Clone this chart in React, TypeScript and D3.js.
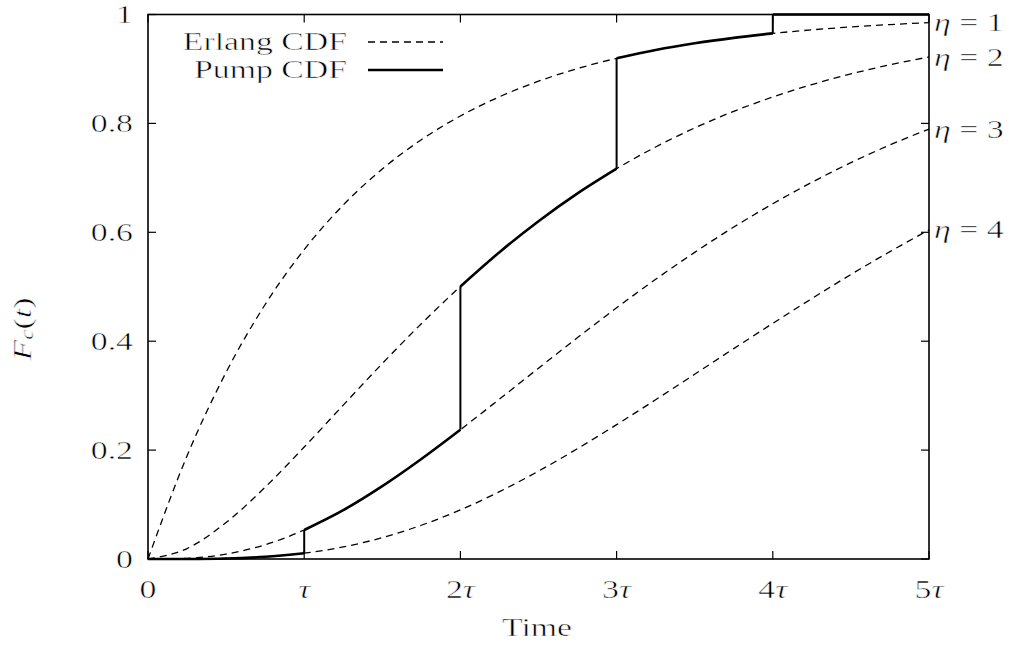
import React from "react";
import * as d3 from "d3";

// Sample times, in units of tau
const timeSteps = [0, 0.25, 0.5, 0.75, 1, 1.25, 1.5, 1.75, 2, 2.25, 2.5, 2.75, 3, 3.25, 3.5, 3.75, 4, 4.25, 4.5, 4.75, 5];

// Erlang CDF for shape eta = 1..4
const erlang1 = [0, 0.1894, 0.3429, 0.4674, 0.5683, 0.6501, 0.7163, 0.7701, 0.8136, 0.8489, 0.8775, 0.9007, 0.9195, 0.9348, 0.9471, 0.9571, 0.9653, 0.9718, 0.9772, 0.9815, 0.985];
const erlang2 = [0, 0.0192, 0.067, 0.1319, 0.2056, 0.2826, 0.359, 0.4321, 0.5005, 0.5634, 0.6204, 0.6714, 0.7168, 0.7567, 0.7917, 0.8222, 0.8485, 0.8713, 0.8909, 0.9077, 0.922];
const erlang3 = [0, 0.0013, 0.0091, 0.0262, 0.0533, 0.0897, 0.1338, 0.1837, 0.2375, 0.2936, 0.3504, 0.4066, 0.4613, 0.5137, 0.5632, 0.6096, 0.6524, 0.6918, 0.7279, 0.7604, 0.7897];
const erlang4 = [0, 0.0001, 0.0009, 0.004, 0.0107, 0.0222, 0.0392, 0.062, 0.0902, 0.1236, 0.1614, 0.2027, 0.2467, 0.2925, 0.3393, 0.3864, 0.4328, 0.4783, 0.5225, 0.5645, 0.6045];
const etaLabels = ["η = 1", "η = 2", "η = 3", "η = 4"];

// Pump CDF: piecewise, with jumps at each multiple of tau (repeated times mark a jump)
const pumpTimes = [0, 0.25, 0.5, 0.75, 1, 1, 1.25, 1.5, 1.75, 2, 2, 2.25, 2.5, 2.75, 3, 3, 3.25, 3.5, 3.75, 4, 4, 5];
const pumpValues = [0, 0.0001, 0.0009, 0.004, 0.0107, 0.0533, 0.0897, 0.1338, 0.1837, 0.2375, 0.5005, 0.5634, 0.6204, 0.6714, 0.7168, 0.9195, 0.9348, 0.9471, 0.9571, 0.9653, 1, 1];

const xTicks = [0, 1, 2, 3, 4, 5];
const xTickLabels = ["0", "τ", "2τ", "3τ", "4τ", "5τ"];
const yTicks = [0, 0.2, 0.4, 0.6, 0.8, 1];
const yTickLabels = ["0", "0.2", "0.4", "0.6", "0.8", "1"];

const W = 1017;
const H = 649;
const L = 148, R = 929, T = 14.5, B = 559;
const FONT = "'Liberation Serif', serif";
const FS = 26;
const SX = 1.3; // horizontal stretch of the serif lettering

type LabelProps = {
  x: number;
  y: number;
  anchor?: "start" | "middle" | "end";
  rotate?: number;
  children: React.ReactNode;
};

function Label({ x, y, anchor = "start", rotate = 0, children }: LabelProps) {
  return (
    <g transform={`translate(${x},${y}) rotate(${rotate}) scale(${SX},1)`}>
      <text
        x={0}
        y={0}
        textAnchor={anchor}
        dominantBaseline="central"
        fontSize={FS}
        fill="#000"
        stroke="#fff"
        strokeWidth={0.55}
      >
        {children}
      </text>
    </g>
  );
}

function withItalicTau(s: string) {
  return s.split("").map((ch, j) => (
    <tspan key={j} fontStyle={ch === "τ" ? "italic" : "normal"}>
      {ch}
    </tspan>
  ));
}

export default function App() {
  const x = d3.scaleLinear().domain([0, 5]).range([L, R]);
  const y = d3.scaleLinear().domain([0, 1]).range([B, T]);
  const curves = [erlang1, erlang2, erlang3, erlang4];

  const line = d3
    .line<[number, number]>()
    .x((d) => x(d[0]))
    .y((d) => y(d[1]))
    .curve(d3.curveMonotoneX);

  // split pump series into smooth pieces at the jumps
  const segments: [number, number][][] = [];
  let cur: [number, number][] = [];
  pumpTimes.forEach((t, i) => {
    if (i > 0 && t === pumpTimes[i - 1]) {
      segments.push(cur);
      cur = [];
    }
    cur.push([t, pumpValues[i]]);
  });
  segments.push(cur);

  const tickLen = 8;

  return (
    <svg width={W} height={H} style={{ position: "absolute", left: 0, top: 0, background: "#fff" }} fontFamily={FONT}>
      <rect x={0} y={0} width={W} height={H} fill="#fff" />

      {/* Erlang curves */}
      {curves.map((c, k) => (
        <path
          key={"e" + k}
          d={line(timeSteps.map((t, i) => [t, c[i]] as [number, number])) || ""}
          fill="none"
          stroke="#000"
          strokeWidth={1.3}
          strokeDasharray="7,5"
        />
      ))}

      {/* Pump curve */}
      {segments.map((s, k) => (
        <path key={"p" + k} d={line(s) || ""} fill="none" stroke="#000" strokeWidth={2.6} />
      ))}
      {segments.slice(1).map((s, k) => {
        const prev = segments[k];
        const a = prev[prev.length - 1];
        const b = s[0];
        return (
          <line key={"j" + k} x1={x(a[0])} y1={y(a[1])} x2={x(b[0])} y2={y(b[1])} stroke="#000" strokeWidth={2} />
        );
      })}

      {/* frame */}
      <rect x={L} y={T} width={R - L} height={B - T} fill="none" stroke="#000" strokeWidth={1.6} />

      {/* x ticks */}
      {xTicks.map((t, i) => (
        <g key={"xt" + i}>
          <line x1={x(t)} x2={x(t)} y1={B} y2={B - tickLen} stroke="#000" strokeWidth={1.2} />
          <line x1={x(t)} x2={x(t)} y1={T} y2={T + tickLen} stroke="#000" strokeWidth={1.2} />
          <Label x={x(t)} y={589} anchor="middle">
            {withItalicTau(xTickLabels[i])}
          </Label>
        </g>
      ))}

      {/* y ticks */}
      {yTicks.map((v, i) => (
        <g key={"yt" + i}>
          <line x1={L} x2={L + tickLen} y1={y(v)} y2={y(v)} stroke="#000" strokeWidth={1.2} />
          <line x1={R} x2={R - tickLen} y1={y(v)} y2={y(v)} stroke="#000" strokeWidth={1.2} />
          <Label x={133} y={y(v)} anchor="end">
            {yTickLabels[i]}
          </Label>
        </g>
      ))}

      {/* eta labels at curve ends */}
      {curves.map((c, k) => (
        <Label key={"lab" + k} x={934} y={y(c[c.length - 1])}>
          <tspan fontStyle="italic">η</tspan>
          <tspan>{etaLabels[k].slice(1)}</tspan>
        </Label>
      ))}

      {/* axis titles */}
      <Label x={537} y={627} anchor="middle">
        Time
      </Label>
      <Label x={22} y={329} anchor="middle" rotate={-90}>
        <tspan fontStyle="italic">F</tspan>
        <tspan fontStyle="italic" fontSize={18} dy={5}>c</tspan>
        <tspan dy={-5}>(</tspan>
        <tspan fontStyle="italic">t</tspan>
        <tspan>)</tspan>
      </Label>

      {/* legend */}
      <Label x={347} y={41} anchor="end">
        Erlang CDF
      </Label>
      <line x1={368} x2={443} y1={42} y2={42} stroke="#000" strokeWidth={1.3} strokeDasharray="7,5" />
      <Label x={347} y={69} anchor="end">
        Pump CDF
      </Label>
      <line x1={368} x2={443} y1={70} y2={70} stroke="#000" strokeWidth={2.6} />
    </svg>
  );
}
